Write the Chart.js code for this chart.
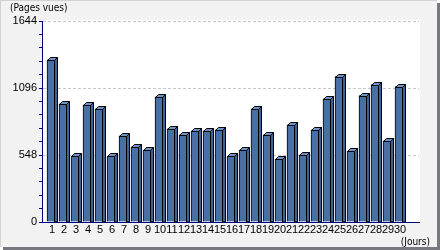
<!DOCTYPE html>
<html>
<head>
<meta charset="utf-8">
<script src="https://cdn.jsdelivr.net/npm/chart.js@4/dist/chart.umd.min.js"></script>
<style>
html,body{margin:0;padding:0;background:#fff;}
#wrap{position:relative;width:440px;height:250px;}
</style>
</head>
<body>
<div id="wrap"><canvas id="c" width="440" height="250"></canvas></div>
<script>
// ---- data ----
const dayLabels = ['1','2','3','4','5','6','7','8','9','10','11','12','13','14','15','16','17','18','19','20','21','22','23','24','25','26','27','28','29','30'];
const pageViews = [1326, 967, 540, 959, 926, 540, 704, 614, 589, 1024, 762, 712, 745, 745, 753, 540, 589, 926, 712, 515, 795, 548, 753, 1008, 1189, 581, 1033, 1123, 663, 1107];
const yMajorTicks = [0, 548, 1096, 1644];
const yMinorPerMajor = 5;
const yAxisTitle = '(Pages vues)';
const xAxisTitle = '(Jours)';

const NAVY = '#000080';
const FONT = '"Liberation Sans", Arial, sans-serif';
const NARROW = '"Liberation Sans Narrow", "DejaVu Sans Condensed", "Liberation Sans", sans-serif';

const bg = {
  id: 'bg',
  beforeDraw(chart) {
    const ctx = chart.ctx, a = chart.chartArea;
    ctx.save();
    ctx.fillStyle = '#fff';
    ctx.fillRect(0, 0, 440, 250);
    ctx.fillStyle = '#77777f';
    ctx.fillRect(3, 3, 437, 247);
    ctx.fillStyle = '#f2f2f2';
    ctx.fillRect(0, 0, 437, 247);
    ctx.fillStyle = '#d2d2d2';
    ctx.fillRect(0, 0, 437, 1);
    ctx.fillRect(0, 0, 1, 247);
    ctx.fillStyle = '#ffffff';
    ctx.fillRect(a.left, a.top - 1, a.right - a.left + 1, a.bottom - a.top + 1);
    ctx.restore();
  },
  afterDraw(chart) {
    const ctx = chart.ctx;
    ctx.save();
    ctx.fillStyle = '#000';
    ctx.font = '10px ' + NARROW;
    ctx.textBaseline = 'alphabetic';
    ctx.textAlign = 'left';
    ctx.fillText(yAxisTitle, 10, 11);
    ctx.textAlign = 'right';
    ctx.fillText(xAxisTitle, 430, 245);
    ctx.restore();
  }
};

const bar3d = {
  id: 'bar3d',
  afterDatasetsDraw(chart) {
    const ctx = chart.ctx;
    const meta = chart.getDatasetMeta(0);
    const d = 3;
    ctx.save();
    ctx.lineWidth = 1;
    ctx.strokeStyle = '#000';
    meta.data.forEach(el => {
      const p = el.getProps(['x', 'y', 'base', 'width'], true);
      const l = Math.round(p.x - p.width / 2), r = Math.round(p.x + p.width / 2);
      const t = Math.round(p.y), b = Math.round(p.base);
      // side face
      ctx.beginPath();
      ctx.moveTo(r - 0.5, t + 0.5);
      ctx.lineTo(r - 0.5 + d, t + 0.5 - d);
      ctx.lineTo(r - 0.5 + d, b);
      ctx.lineTo(r - 0.5, b);
      ctx.closePath();
      ctx.fillStyle = '#3d6297';
      ctx.fill();
      ctx.stroke();
      // top face
      ctx.beginPath();
      ctx.moveTo(l + 0.5, t + 0.5);
      ctx.lineTo(l + 0.5 + d, t + 0.5 - d);
      ctx.lineTo(r - 0.5 + d, t + 0.5 - d);
      ctx.lineTo(r - 0.5, t + 0.5);
      ctx.closePath();
      ctx.fillStyle = '#6f95c8';
      ctx.fill();
      ctx.stroke();
    });
    ctx.restore();
  }
};

new Chart(document.getElementById('c'), {
  type: 'bar',
  data: {
    datasets: [{
      data: dayLabels.map((d, i) => ({ x: Number(d), y: pageViews[i] })),
      backgroundColor: '#4670a6',
      borderColor: '#000',
      borderWidth: 1,
      borderSkipped: 'start',
      barThickness: 8
    }]
  },
  options: {
    responsive: false,
    animation: false,
    events: [],
    layout: { padding: { left: 0, top: 21, right: 21, bottom: 0 } },
    plugins: { legend: { display: false }, tooltip: { enabled: false }, title: { display: false } },
    scales: {
      x: {
        type: 'linear',
        offset: false,
        min: 0.25,
        max: 31.667,
        afterBuildTicks: s => { s.ticks = dayLabels.map(d => ({ value: Number(d) })); },
        afterFit: s => { s.height = 28; },
        grid: { display: false, drawTicks: false, offset: false },
        border: { display: true, color: NAVY, width: 1, z: 1 },
        ticks: {
          autoSkip: false, maxRotation: 0, minRotation: 0, padding: 1, labelOffset: 1,
          color: '#000', font: { family: FONT, size: 11 },
          callback: (v, i) => dayLabels[i]
        }
      },
      y: {
        type: 'linear',
        min: yMajorTicks[0],
        max: yMajorTicks[yMajorTicks.length - 1],
        afterBuildTicks: s => {
          const t = [];
          for (let k = 0; k < yMajorTicks.length; k++) {
            t.push({ value: yMajorTicks[k] });
            if (k < yMajorTicks.length - 1) {
              const step = (yMajorTicks[k + 1] - yMajorTicks[k]) / yMinorPerMajor;
              for (let j = 1; j < yMinorPerMajor; j++) t.push({ value: yMajorTicks[k] + j * step });
            }
          }
          s.ticks = t;
        },
        afterFit: s => { s.width = 42; },
        grid: {
          color: c => (c.index % yMinorPerMajor === 0 && c.index > 0) ? '#c8c8c8' : 'rgba(0,0,0,0)',
          tickColor: NAVY,
          tickLength: 3,
          lineWidth: 1
        },
        border: { display: true, color: NAVY, width: 1, dash: [3, 2], z: 1 },
        ticks: {
          autoSkip: false,
          padding: 2, color: '#000', font: { family: FONT, size: 11 },
          callback: (v, i) => (i % yMinorPerMajor === 0) ? String(yMajorTicks[i / yMinorPerMajor]) : ''
        }
      }
    }
  },
  plugins: [bg, bar3d]
});
</script>
</body>
</html>
